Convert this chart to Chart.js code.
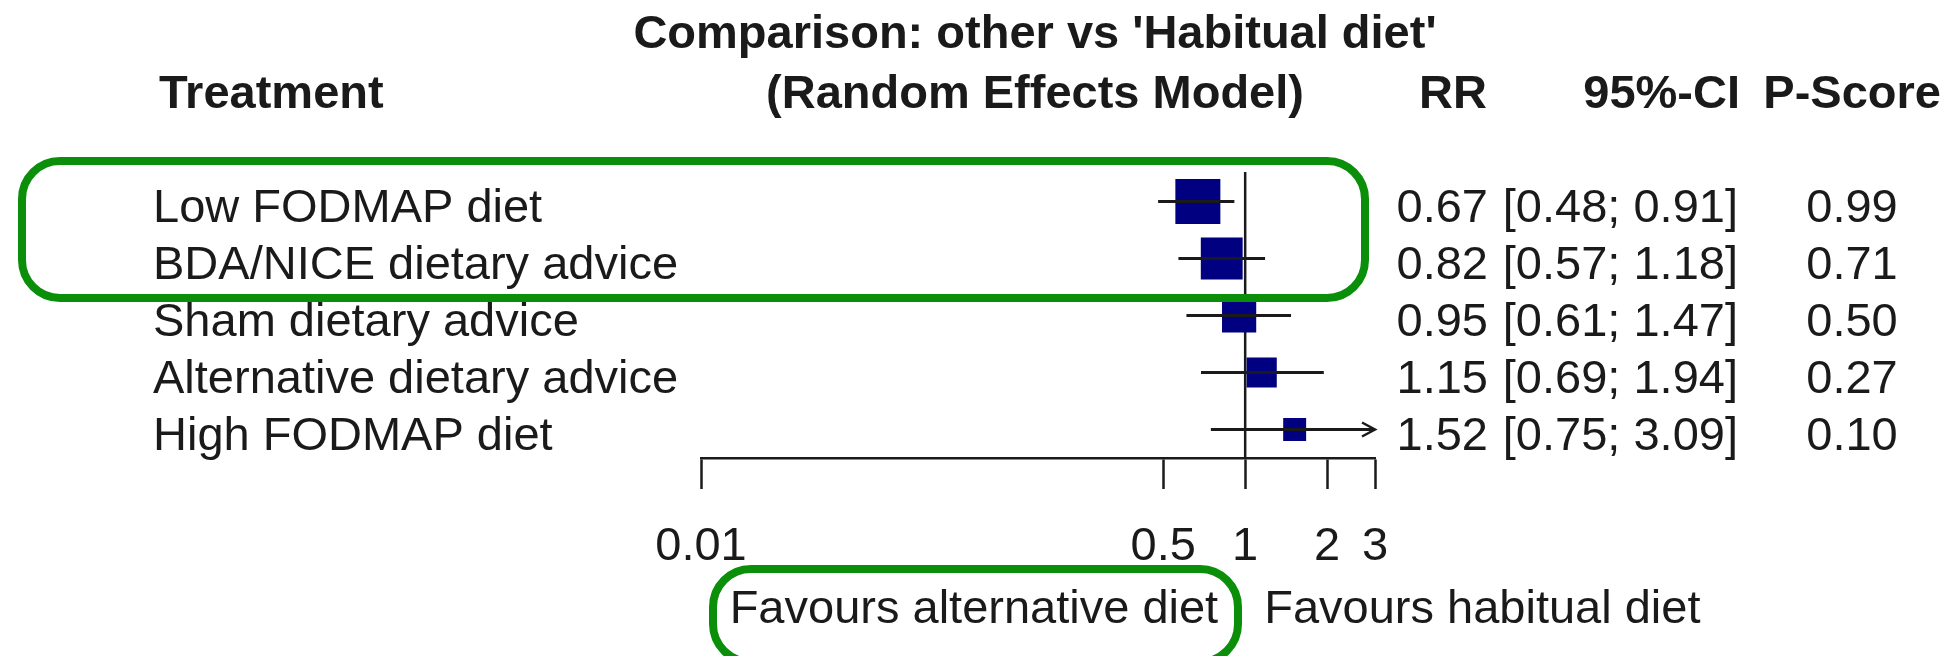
<!DOCTYPE html>
<html>
<head>
<meta charset="utf-8">
<script src="https://cdn.jsdelivr.net/npm/chart.js@4.4.1/dist/chart.umd.min.js"></script>
<style>
  html, body { margin:0; padding:0; background:#fff; }
  canvas { display:block; }
</style>
</head>
<body>
<canvas id="forest" width="1952" height="656"></canvas>
<script>
// data
const treatments = ['Low FODMAP diet', 'BDA/NICE dietary advice', 'Sham dietary advice', 'Alternative dietary advice', 'High FODMAP diet'];
const rr      = [0.67, 0.82, 0.95, 1.15, 1.52];
const ciLow   = [0.48, 0.57, 0.61, 0.69, 0.75];
const ciHigh  = [0.91, 1.18, 1.47, 1.94, 3.09];
const pScore  = ['0.99', '0.71', '0.50', '0.27', '0.10'];
const weights = [1.00, 0.93, 0.76, 0.67, 0.51];   // relative square size
const xTicks  = [0.01, 0.5, 1, 2, 3];

const FONT = '"Liberation Sans", Arial, sans-serif';
const INK = '#1a1a1a';
const BOX_GREEN = '#0b8f0b';

function roundBox(ctx, x0, y0, x1, y1, r) {
  ctx.beginPath();
  ctx.moveTo(x0 + r, y0);
  ctx.arcTo(x1, y0, x1, y1, r);
  ctx.arcTo(x1, y1, x0, y1, r);
  ctx.arcTo(x0, y1, x0, y0, r);
  ctx.arcTo(x0, y0, x1, y0, r);
  ctx.closePath();
  ctx.stroke();
}

const forestPlugin = {
  id: 'forestText',
  beforeDatasetsDraw(chart) {
    // line of no effect at RR = 1
    const {ctx, chartArea, scales: {x}} = chart;
    const px = x.getPixelForValue(1);
    ctx.save();
    ctx.strokeStyle = INK;
    ctx.lineWidth = 2.5;
    ctx.beginPath();
    ctx.moveTo(px, chartArea.top - 1);
    ctx.lineTo(px, chartArea.bottom);
    ctx.stroke();
    ctx.restore();
  },
  afterDatasetsDraw(chart) {
    // arrow heads where the CI runs past the axis
    const {ctx, scales: {x, y}} = chart;
    ctx.save();
    ctx.strokeStyle = INK;
    ctx.lineWidth = 2.5;
    ciHigh.forEach((hi, i) => {
      if (hi <= x.max) return;
      const tx = x.getPixelForValue(x.max), ty = y.getPixelForValue(i);
      ctx.beginPath();
      ctx.moveTo(tx - 13, ty - 7);
      ctx.lineTo(tx, ty);
      ctx.lineTo(tx - 13, ty + 7);
      ctx.stroke();
    });
    ctx.restore();
  },
  afterDraw(chart) {
    const {ctx, scales: {x, y}} = chart;
    ctx.save();
    ctx.fillStyle = INK;
    ctx.textBaseline = 'alphabetic';

    // headers
    ctx.font = `bold 47px ${FONT}`;
    ctx.textAlign = 'center';
    ctx.fillText("Comparison: other vs 'Habitual diet'", 1035, 48);
    ctx.fillText('(Random Effects Model)', 1035, 108);
    ctx.textAlign = 'left';
    ctx.fillText('Treatment', 159, 108);
    ctx.textAlign = 'right';
    ctx.fillText('RR', 1487, 108);
    ctx.fillText('95%-CI', 1740, 108);
    ctx.fillText('P-Score', 1941, 108);

    // one text row per treatment
    ctx.font = `47px ${FONT}`;
    treatments.forEach((t, i) => {
      const by = y.getPixelForValue(i) + 20;
      ctx.textAlign = 'left';
      ctx.fillText(t, 153, by);
      ctx.textAlign = 'right';
      ctx.fillText(rr[i].toFixed(2), 1488, by);
      ctx.fillText(`[${ciLow[i].toFixed(2)}; ${ciHigh[i].toFixed(2)}]`, 1738, by);
      ctx.textAlign = 'center';
      ctx.fillText(pScore[i], 1852, by);
    });

    // favours labels either side of RR = 1
    const ref = x.getPixelForValue(1);
    ctx.textAlign = 'right';
    ctx.fillText('Favours alternative diet', ref - 27, 623);
    ctx.textAlign = 'left';
    ctx.fillText('Favours habitual diet', ref + 19, 623);

    // green highlight boxes
    ctx.strokeStyle = BOX_GREEN;
    ctx.lineWidth = 8;
    roundBox(ctx, 22, 161, 1365, 298, 38);
    roundBox(ctx, 713, 569, 1238, 662, 38);
    ctx.restore();
  }
};

const ctx = document.getElementById('forest').getContext('2d');
const forestChart = new Chart(ctx, {
  type: 'bar',
  data: {
    labels: treatments,
    datasets: [{
      label: '95%-CI',
      data: treatments.map((_, i) => [ciLow[i], ciHigh[i]]),
      backgroundColor: INK,
      borderWidth: 0,
      barThickness: 2.5,
      clip: 0,
      order: 0
    }, {
      type: 'scatter',
      label: 'RR',
      data: treatments.map((t, i) => ({ x: rr[i], y: t })),
      pointStyle: 'rect',
      pointRadius: weights.map(w => w * 45 / Math.SQRT2),
      backgroundColor: '#000080',
      borderWidth: 0,
      order: 1
    }]
  },
  options: {
    indexAxis: 'y',
    responsive: false,
    animation: false,
    events: [],
    devicePixelRatio: 1,
    layout: { padding: { left: 701, right: 577, top: 173, bottom: 0 } },
    plugins: { legend: { display: false }, tooltip: { enabled: false } },
    scales: {
      x: {
        type: 'logarithmic',
        min: 0.01,
        max: 3,
        afterBuildTicks: s => { s.ticks = xTicks.map(v => ({ value: v })); },
        afterFit: s => { s.height = 198; },
        border: { display: true, color: INK, width: 2.5 },
        grid: { drawOnChartArea: false, drawTicks: true, tickLength: 31, tickWidth: 2.5, tickColor: INK },
        ticks: {
          autoSkip: false,
          maxRotation: 0,
          padding: 30,
          color: INK,
          font: { family: FONT, size: 47 },
          callback: v => String(v)
        }
      },
      y: {
        type: 'category',
        labels: treatments,
        offset: true,
        display: false
      }
    }
  },
  plugins: [forestPlugin]
});
</script>
</body>
</html>
